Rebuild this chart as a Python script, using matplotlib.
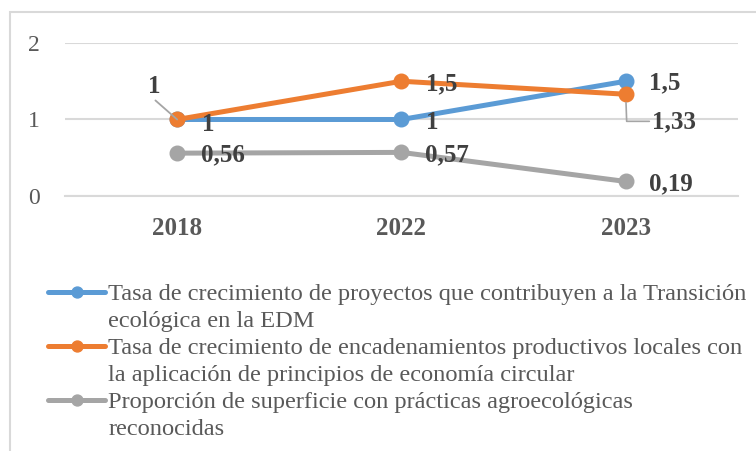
import matplotlib

matplotlib.use("Agg")
import matplotlib.pyplot as plt
from matplotlib.lines import Line2D
from matplotlib.patches import Rectangle

plt.rcParams["font.family"] = ["Liberation Serif", "DejaVu Serif"]

years = ["2018", "2022", "2023"]
proyectos = [1.0, 1.0, 1.5]
encadenamientos = [1.0, 1.5, 1.33]
superficie = [0.56, 0.57, 0.19]

proyectos_labels = ["1", "1", "1,5"]
encadenamientos_labels = ["1", "1,5", "1,33"]
superficie_labels = ["0,56", "0,57", "0,19"]

legend_lines = [
    "Tasa de crecimiento de proyectos que contribuyen a la Transición",
    "ecológica en la EDM",
    "Tasa de crecimiento de encadenamientos productivos locales con",
    "la aplicación de principios de economía circular",
    "Proporción de superficie con prácticas agroecológicas",
    "reconocidas",
]

BLUE = "#5B9BD5"
ORANGE = "#ED7D31"
GRAY = "#A5A5A5"
LABEL = "#404040"
TICK = "#595959"

fig = plt.figure(figsize=(7.56, 4.51), dpi=100)
fig.patches.append(Rectangle((10 / 756, -0.1), 1.2, 1.1 - 12 / 451, transform=fig.transFigure,
                             fill=False, edgecolor="#d9d9d9", linewidth=1.5))
ax = fig.add_axes([0.086, 0.5654, 0.89, 0.3393])

x = list(range(len(years)))
line_kw = dict(linewidth=3.6, marker="o", markersize=10.5, solid_capstyle="round", zorder=3)
l1, = ax.plot(x, proyectos, color=BLUE, **line_kw)
l2, = ax.plot(x, encadenamientos, color=ORANGE, **line_kw)
l3, = ax.plot(x, superficie, color=GRAY, **line_kw)

lab_kw = dict(textcoords="offset points", fontsize=18, fontweight="bold", color=LABEL, va="center",
              zorder=4)
# blue labels
ax.annotate(proyectos_labels[0], (x[0], proyectos[0]), xytext=(18, -3.5), **lab_kw)
ax.annotate(proyectos_labels[1], (x[1], proyectos[1]), xytext=(18, -2.5), **lab_kw)
ax.annotate(proyectos_labels[2], (x[2], proyectos[2]), xytext=(17, -1), **lab_kw)
# orange labels (two with leader lines)
ax.annotate(encadenamientos_labels[0], (x[0], encadenamientos[0]), xytext=(-16.5, 24), ha="center",
            arrowprops=dict(arrowstyle="-", color=GRAY, lw=1.3, shrinkA=0, shrinkB=0,
                            relpos=(0.55, -0.1)), **lab_kw)
ax.annotate(encadenamientos_labels[1], (x[1], encadenamientos[1]), xytext=(18, -1.5), **lab_kw)
ax.annotate(encadenamientos_labels[2], (x[2], encadenamientos[2]), xytext=(19, -19.5),
            arrowprops=dict(arrowstyle="-", color=GRAY, lw=1.2, shrinkA=0, shrinkB=6,
                            connectionstyle="angle,angleA=0,angleB=92,rad=0"), **lab_kw)
# gray labels
for xi, v, s in zip(x, superficie, superficie_labels):
    ax.annotate(s, (xi, v), xytext=(17, -1.5), **lab_kw)

ax.set_xlim(-0.5, 2.5)
ax.set_ylim(0, 2)
ax.set_yticks([0, 1, 2])
ax.set_yticklabels(["0", "1", "2"], fontsize=17, color=TICK)
ax.set_xticks(x)
ax.set_xticklabels(years, fontsize=18, fontweight="bold", color=TICK)
ax.tick_params(axis="both", length=0)
ax.tick_params(axis="y", pad=18)
ax.tick_params(axis="x", pad=15)
ax.grid(axis="y", color="#d9d9d9", linewidth=1.5)
ax.set_axisbelow(True)
for side in ["left", "right", "top"]:
    ax.spines[side].set_visible(False)
ax.spines["bottom"].set_color("#d9d9d9")
ax.spines["bottom"].set_linewidth(1.5)

blank = Line2D([], [], color="none")
handles = [l1, blank, l2, blank, l3, blank]
fig.legend(handles, legend_lines, loc="upper left", bbox_to_anchor=(48 / 756, 1 - 283 / 451),
           frameon=False, fontsize=17.6, handlelength=2.35, handletextpad=0.12, labelspacing=0.2,
           borderpad=0, borderaxespad=0, markerscale=0.75, labelcolor=TICK)

fig.savefig("out.png", dpi=100)
